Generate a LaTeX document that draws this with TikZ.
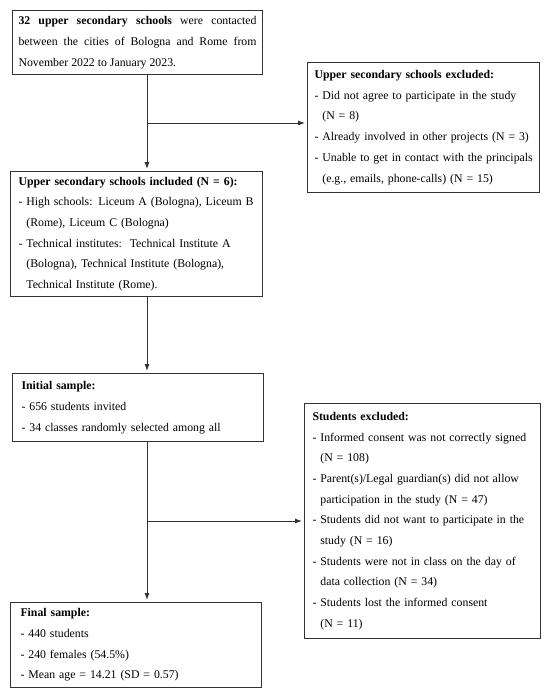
\documentclass[tikz,border=0pt]{standalone}
\usepackage{fontspec}
\setmainfont{Liberation Serif}
\usetikzlibrary{arrows.meta}
\newcommand\lin[1]{\mbox{#1}}
\newcommand\ind{\phantom{- }}
\begin{document}
\begin{tikzpicture}[x=1pt,y=-1pt,
  box/.style={draw=black!80, line width=1pt, anchor=north west, inner xsep=9pt, inner ysep=0pt, align=left, font={\fontsize{11.8}{20.7}\selectfont}},
  arr/.style={draw=black!80, line width=0.9pt, -{Latex[length=7pt,width=5pt]}, shorten >=2pt}]
\useasboundingbox (0,0) rectangle (550,697);
\node[box, text width=238pt, inner xsep=6pt, minimum height=64pt, align=justify] (b1) at (12,10)
 {\textbf{32 upper secondary schools} were contacted\linebreak between the cities of Bologna and Rome from\linebreak November 2022 to January 2023.};
\node[box, text width=218pt, inner xsep=7pt, minimum height=130pt] (b2) at (307,62)
 {\lin{\textbf{Upper secondary schools excluded:}}\\
\lin{- Did not agree to participate in the study}\\
\lin{\ind(N = 8)}\\
\lin{- Already involved in other projects (N = 3)}\\
\lin{- Unable to get in contact with the principals}\\
\lin{\ind(e.g., emails, phone-calls) (N = 15)}};
\node[box, text width=236pt, inner xsep=8pt, minimum height=125pt] (b3) at (10,171)
 {\lin{\textbf{Upper secondary schools included (N = 6):}}\\
\lin{- High schools: Liceum A (Bologna), Liceum B}\\
\lin{\ind(Rome), Liceum C (Bologna)}\\
\lin{- Technical institutes:\ \ Technical Institute A}\\
\lin{\ind(Bologna), Technical Institute (Bologna),}\\
\lin{\ind Technical Institute (Rome).}};
\node[box, text width=233pt, minimum height=68pt] (b4) at (12,373)
 {\lin{\textbf{Initial sample:}}\\
\lin{- 656 students invited}\\
\lin{- 34 classes randomly selected among all}};
\node[box, text width=220pt, inner xsep=8pt, minimum height=235pt] (b5) at (304,403)
 {\lin{\textbf{Students excluded:}}\\
\lin{- Informed consent was not correctly signed}\\
\lin{\ind(N = 108)}\\
\lin{- Parent(s)/Legal guardian(s) did not allow}\\
\lin{\ind participation in the study (N = 47)}\\
\lin{- Students did not want to participate in the}\\
\lin{\ind study (N = 16)}\\
\lin{- Students were not in class on the day of}\\
\lin{\ind data collection (N = 34)}\\
\lin{- Students lost the informed consent}\\
\lin{\ind(N = 11)}};
\node[box, text width=231pt, inner xsep=10pt, minimum height=85pt] (b6) at (10,602)
 {\lin{\textbf{Final sample:}}\\
\lin{- 440 students}\\
\lin{- 240 females (54.5\%)}\\
\lin{- Mean age = 14.21 (SD = 0.57)}};
\coordinate (j1) at (147,123);
\coordinate (j2) at (147,521);
\draw[arr] (b1.south -| j1) -- (j1 |- b3.north);
\draw[arr] (j1) -- (j1 -| b2.west);
\draw[arr] (b3.south -| j1) -- (j1 |- b4.north);
\draw[arr] (b4.south -| j2) -- (j2 |- b6.north);
\draw[arr] (j2) -- (j2 -| b5.west);
\end{tikzpicture}
\end{document}
